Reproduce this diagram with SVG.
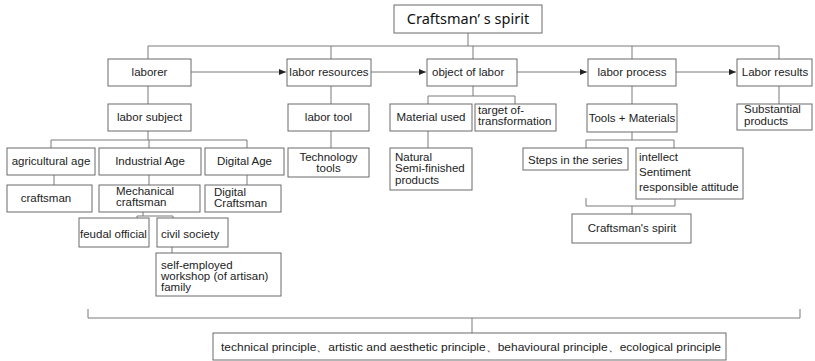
<svg xmlns="http://www.w3.org/2000/svg" width="815" height="361" viewBox="0 0 815 361">
<style>
.b{fill:#fff;stroke:#6a6a6a;stroke-width:1}
.t{font-family:"Liberation Sans",Arial,sans-serif;font-size:11.5px;fill:#222}
.c{text-anchor:middle}
.ln{fill:none;stroke:#7a7a7a;stroke-width:1}
</style>
<defs>
<marker id="ah" markerWidth="8" markerHeight="8" refX="7" refY="4" orient="auto" markerUnits="userSpaceOnUse">
<path d="M0,1 L7,4 L0,7 Z" fill="#222"/>
</marker>
</defs>
<rect width="815" height="361" fill="#fff"/>
<g id="connectors" class="ln">
<path d="M468,33V46M148,46H779M148,46V59M331,46V59M473,46V59M632,46V59M779,46V59"/>
<path d="M191,72H286" marker-end="url(#ah)"/>
<path d="M371,72H426" marker-end="url(#ah)"/>
<path d="M517,72H587" marker-end="url(#ah)"/>
<path d="M676,72H736" marker-end="url(#ah)"/>
<path d="M148,86V104M148,131V140M51,140H247M51,140V148M149,140V148M247,140V148"/>
<path d="M54,175V185M149,175V185M247,175V185"/>
<path d="M143,212V216M137,216H173M137,216V218M173,216V218M172,247V253"/>
<path d="M331,86V104M331,131V148"/>
<path d="M473,86V96M428,96H515M428,96V104M515,96V104M428,131V148"/>
<path d="M632,86V104M632,132V140M586,140H674M586,140V148M674,140V148"/>
<path d="M586,198V206H675V199M632,206V214"/>
<path d="M779,86V104"/>
<path d="M88,309V318H800V309M472,318V333"/>
</g>
<g id="title"><rect class="b" x="394" y="5" width="148" height="28"/><text x="468" y="24" style="font-family:'Noto Sans','Open Sans',sans-serif;font-size:14.5px;fill:#111" text-anchor="middle">Craftsman’ s spirit</text></g>
<g id="laborer"><rect class="b" x="108" y="59" width="83" height="27"/><text class="t c" x="149.5" y="76">laborer</text></g>
<g id="labor-resources"><rect class="b" x="287" y="59" width="84" height="27"/><text class="t c" x="329" y="76">labor resources</text></g>
<g id="object-of-labor"><rect class="b" x="427" y="59" width="90" height="27"/><text class="t" x="432" y="76">object of labor</text></g>
<g id="labor-process"><rect class="b" x="588" y="59" width="88" height="27"/><text class="t c" x="632" y="76">labor process</text></g>
<g id="labor-results"><rect class="b" x="737" y="59" width="75" height="27"/><text class="t c" x="775" y="76">Labor results</text></g>
<g id="labor-subject"><rect class="b" x="108" y="104" width="83" height="27"/><text class="t c" x="149.5" y="121">labor subject</text></g>
<g id="labor-tool"><rect class="b" x="288" y="104" width="81" height="27"/><text class="t c" x="328.5" y="121">labor tool</text></g>
<g id="material-used"><rect class="b" x="390" y="104" width="82" height="27"/><text class="t c" x="431" y="121">Material used</text></g>
<g id="target"><rect class="b" x="475" y="104" width="81" height="27"/><text class="t" x="478" y="114">target of-</text><text class="t" x="478" y="125">transformation</text></g>
<g id="tools-materials"><rect class="b" x="587" y="104" width="90" height="28"/><text class="t c" x="632" y="122">Tools + Materials</text></g>
<g id="substantial"><rect class="b" x="737" y="104" width="75" height="26"/><text class="t" x="744" y="113">Substantial</text><text class="t" x="744" y="125">products</text></g>
<g id="agricultural"><rect class="b" x="7" y="148" width="88" height="27"/><text class="t c" x="51" y="165">agricultural age</text></g>
<g id="industrial"><rect class="b" x="99" y="148" width="102" height="27"/><text class="t c" x="150" y="165">Industrial Age</text></g>
<g id="digital-age"><rect class="b" x="205" y="148" width="79" height="27"/><text class="t c" x="244.5" y="165">Digital Age</text></g>
<g id="technology-tools"><rect class="b" x="288" y="148" width="81" height="29"/><text class="t c" x="328.5" y="161">Technology</text><text class="t c" x="328.5" y="172">tools</text></g>
<g id="natural"><rect class="b" x="390" y="148" width="82" height="42"/><text class="t" x="395" y="161">Natural</text><text class="t" x="395" y="172">Semi-finished</text><text class="t" x="395" y="184">products</text></g>
<g id="steps"><rect class="b" x="523" y="148" width="105" height="22"/><text class="t" x="528" y="164">Steps in the series</text></g>
<g id="intellect"><rect class="b" x="636" y="148" width="107" height="51"/><text class="t" x="639" y="161">intellect</text><text class="t" x="639" y="176">Sentiment</text><text class="t" x="639" y="191">responsible attitude</text></g>
<g id="craftsman"><rect class="b" x="7" y="185" width="85" height="27"/><text class="t c" x="46" y="202">craftsman</text></g>
<g id="mechanical"><rect class="b" x="99" y="185" width="101" height="27"/><text class="t" x="116" y="195">Mechanical</text><text class="t" x="116" y="206">craftsman</text></g>
<g id="digital-craftsman"><rect class="b" x="205" y="185" width="76" height="27"/><text class="t" x="214" y="196">Digital</text><text class="t" x="214" y="207">Craftsman</text></g>
<g id="feudal"><rect class="b" x="79" y="218" width="70" height="29"/><text class="t" x="80" y="238">feudal official</text></g>
<g id="civil"><rect class="b" x="157" y="218" width="71" height="29"/><text class="t" x="161" y="238">civil society</text></g>
<g id="self-employed"><rect class="b" x="156" y="253" width="125" height="43"/><text class="t" x="161" y="269">self-employed</text><text class="t" x="161" y="280">workshop (of artisan)</text><text class="t" x="161" y="291">family</text></g>
<g id="craftsman-spirit-2"><rect class="b" x="572" y="214" width="119" height="29"/><text class="t c" x="632" y="232">Craftsman's spirit</text></g>
<g id="principles"><rect class="b" x="213" y="333" width="513" height="27"/><text class="t" x="221" y="351" style="font-size:11px" textLength="500" lengthAdjust="spacingAndGlyphs">technical principle、artistic and aesthetic principle、behavioural principle、ecological principle</text></g>
</svg>
